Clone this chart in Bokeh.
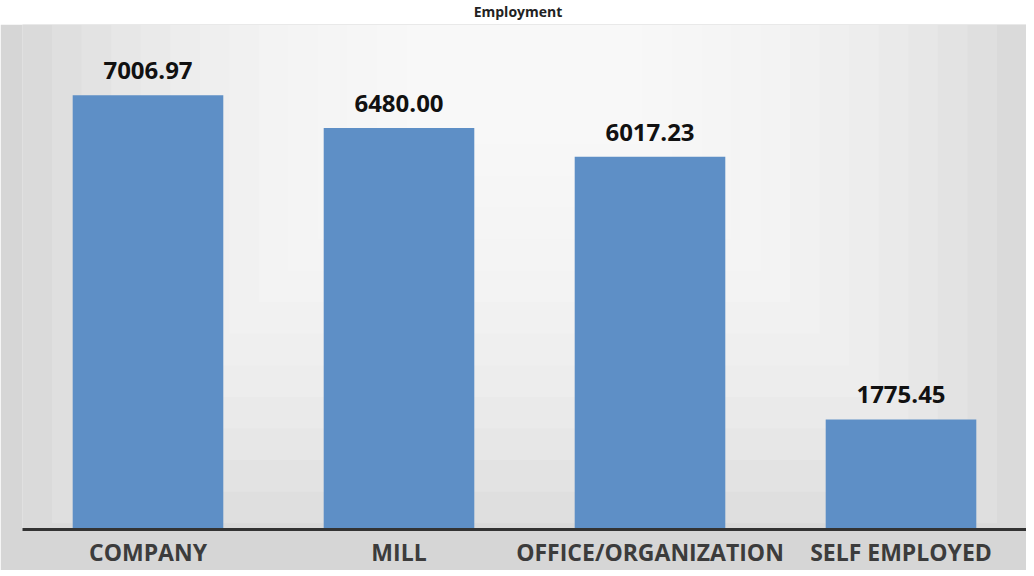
from bokeh.plotting import figure
from bokeh.models import ColumnDataSource, FactorRange, Range1d, BoxAnnotation, Div
from bokeh.layouts import column
from bokeh.core.properties import value
from bokeh.embed import file_html
from bokeh.resources import INLINE

# ---- data ----
categories = ["COMPANY", "MILL", "OFFICE/ORGANIZATION", "SELF EMPLOYED"]
values = [7006.97, 6480.00, 6017.23, 1775.45]
value_labels = ["7006.97", "6480.00", "6017.23", "1775.45"]
title_text = "Employment"

src = ColumnDataSource(dict(cat=categories, val=values, lab=value_labels))

Y_END = 8150
p = figure(
    x_range=FactorRange(factors=categories, range_padding=0),
    y_range=Range1d(0, Y_END),
    width=1026, height=546,
    output_backend="svg", toolbar_location=None,
    y_axis_location=None,
    min_border_left=22, min_border_right=0, min_border_top=0, min_border_bottom=30,
)
p.background_fill_color = "#d4d4d4"
p.border_fill_color = "#d6d6d6"
p.outline_line_color = None
p.xgrid.visible = False
p.ygrid.visible = False

# soft radial-like background gradient (lighter at top centre)
n = 14
for i in range(n):
    hw = 2.0 * (1 - i / (n + 3))
    h = Y_END * (1.05 - i / (n + 2))
    p.add_layout(BoxAnnotation(left=2 - hw, right=2 + hw, top=Y_END, bottom=Y_END - h,
                               fill_color="white", fill_alpha=0.15, line_color=None,
                               level="underlay"))

p.vbar(x="cat", top="val", width=0.6, source=src, fill_color="#5e8fc6", line_color=None)

p.text(x="cat", y="val", text="lab", source=src, text_align="center", text_baseline="bottom",
       y_offset=-16, text_font=value("Open Sans"), text_font_style="bold",
       text_font_size="24px", text_color="#111111")

ax = p.xaxis[0]
ax.axis_line_width = 3
ax.axis_line_color = "#333333"
ax.major_tick_line_color = None
ax.minor_tick_line_color = None
ax.major_tick_out = 0
ax.major_tick_in = 0
ax.major_label_standoff = 6
ax.major_label_text_font = "Open Sans"
ax.major_label_text_font_style = "bold"
ax.major_label_text_font_size = "23px"
ax.major_label_text_color = "#3c3c3c"

title = Div(text=title_text, width=1026, height=14,
            styles={"text-align": "center", "font-size": "14px", "font-weight": "bold",
                    "font-family": "Open Sans", "line-height": "14px", "width": "1026px",
                    "color": "#222222"})

layout = column(title, p, spacing=0)
open("out.html", "w").write(file_html(layout, INLINE))
